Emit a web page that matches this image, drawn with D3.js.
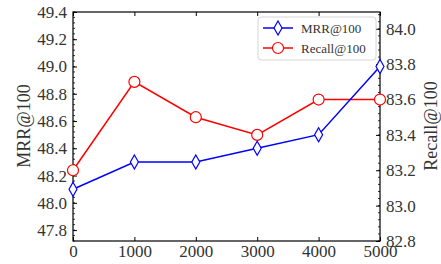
<!DOCTYPE html>
<html>
<head>
<meta charset="utf-8">
<script src="https://cdn.jsdelivr.net/npm/d3@7"></script>
<style>
  body { margin: 0; background: #fff; }
  text { font-family: "Liberation Serif", "DejaVu Serif", serif; }
</style>
</head>
<body>
<svg id="chart" width="441" height="264"></svg>
<script>
// values
const steps = [0, 1000, 2000, 3000, 4000, 5000];
const mrr = [48.1, 48.3, 48.3, 48.4, 48.5, 49.0];
const recall = [83.2, 83.7, 83.5, 83.4, 83.6, 83.6];
const leftTicks = [47.8, 48.0, 48.2, 48.4, 48.6, 48.8, 49.0, 49.2, 49.4];
const rightTicks = [82.8, 83.0, 83.2, 83.4, 83.6, 83.8, 84.0];

const svg = d3.select('#chart');
const margin = { top: 12, bottom: 23, right: 61, left: 73 };
const W = 441 - margin.left - margin.right;
const H = 264 - margin.top - margin.bottom;
const g = svg.append('g').attr('transform', `translate(${margin.left},${margin.top})`);

const x = d3.scaleLinear().domain([0, 5000]).range([0, W]);
const yL = d3.scaleLinear().domain([47.72, 49.4]).range([H, 0]);
const yR = d3.scaleLinear().domain([82.8, 84.095]).range([H, 0]);

// minor ticks (inward)
const minorL = d3.range(47.72, 49.401, 0.04).map(v => +v.toFixed(2));
const minorR = d3.range(82.8, 84.1, 0.04).map(v => +v.toFixed(2));
g.selectAll('.minL').data(minorL).join('line')
  .attr('x1', 0).attr('x2', 2).attr('y1', d => yL(d)).attr('y2', d => yL(d))
  .style('stroke', '#000').style('stroke-width', 0.8);
g.selectAll('.minR').data(minorR).join('line')
  .attr('x1', W).attr('x2', W - 2).attr('y1', d => yR(d)).attr('y2', d => yR(d))
  .style('stroke', '#000').style('stroke-width', 0.8);

const fmt = d3.format('.1f');
const axL = g.append('g').call(d3.axisLeft(yL).tickValues(leftTicks).tickFormat(fmt).tickSizeInner(-4).tickSizeOuter(0).tickPadding(6));
const axR = g.append('g').attr('transform', `translate(${W},0)`)
  .call(d3.axisRight(yR).tickValues(rightTicks).tickFormat(fmt).tickSizeInner(-4).tickSizeOuter(0).tickPadding(6));
const axB = g.append('g').attr('transform', `translate(0,${H})`)
  .call(d3.axisBottom(x).tickValues(steps).tickFormat(d3.format('d')).tickSizeInner(-4).tickSizeOuter(0).tickPadding(4));
const axT = g.append('g')
  .call(d3.axisTop(x).tickValues(steps).tickFormat('').tickSizeInner(-4).tickSizeOuter(0));
[axL, axR, axB, axT].forEach(a => {
  a.select('.domain').remove();
  a.selectAll('text').style('font-size', '17px').style('fill', '#333');
  a.selectAll('line').style('stroke', '#000');
});

g.append('rect').attr('width', W).attr('height', H)
  .style('fill', 'none').style('stroke', '#000').style('stroke-width', 1.2);

// lines
const lineMrr = d3.line().x((d, i) => x(steps[i])).y(d => yL(d));
const lineRec = d3.line().x((d, i) => x(steps[i])).y(d => yR(d));
g.append('path').datum(recall).attr('d', lineRec)
  .style('fill', 'none').style('stroke', '#ff0000').style('stroke-width', 1.5);
g.append('path').datum(mrr).attr('d', lineMrr)
  .style('fill', 'none').style('stroke', '#0000ff').style('stroke-width', 1.5);

const diamond = 'M0,-7L4,0L0,7L-4,0Z';
g.selectAll('.rec').data(recall).join('circle')
  .attr('cx', (d, i) => x(steps[i])).attr('cy', d => yR(d)).attr('r', 5.5)
  .style('fill', '#fff').style('stroke', '#ff0000').style('stroke-width', 1.2);
g.selectAll('.mrr').data(mrr).join('path')
  .attr('d', diamond)
  .attr('transform', (d, i) => `translate(${x(steps[i])},${yL(d)})`)
  .style('fill', '#fff').style('stroke', '#0000ff').style('stroke-width', 1.2);

// axis titles
svg.append('text').attr('transform', 'translate(30,126) rotate(-90)')
  .attr('text-anchor', 'middle').style('font-size', '18px').style('fill', '#333').text('MRR@100');
svg.append('text').attr('transform', 'translate(437,126) rotate(-90)')
  .attr('text-anchor', 'middle').style('font-size', '18px').style('fill', '#333').text('Recall@100');

// legend
const leg = g.append('g').attr('transform', 'translate(185,5)');
leg.append('rect').attr('width', 118).attr('height', 43).attr('rx', 3)
  .style('fill', '#fff').style('fill-opacity', 0.8).style('stroke', '#ccc').style('stroke-width', 0.8);
const items = [
  { name: 'MRR@100', color: '#0000ff', mark: 'diamond' },
  { name: 'Recall@100', color: '#ff0000', mark: 'circle' }
];
items.forEach((it, i) => {
  const yy = 11 + i * 20;
  leg.append('line').attr('x1', 5).attr('x2', 35).attr('y1', yy).attr('y2', yy)
    .style('stroke', it.color).style('stroke-width', 1.5);
  if (it.mark === 'diamond') {
    leg.append('path').attr('d', diamond).attr('transform', `translate(20,${yy})`)
      .style('fill', '#fff').style('stroke', it.color).style('stroke-width', 1.2);
  } else {
    leg.append('circle').attr('cx', 20).attr('cy', yy).attr('r', 5.5)
      .style('fill', '#fff').style('stroke', it.color).style('stroke-width', 1.2);
  }
  leg.append('text').attr('x', 43).attr('y', yy + 4.5).style('font-size', '13px').style('fill', '#333').text(it.name);
});
</script>
</body>
</html>
